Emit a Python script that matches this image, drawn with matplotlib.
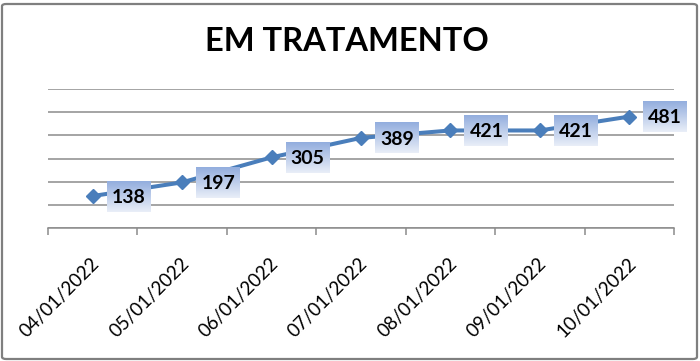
import numpy as np
import matplotlib
matplotlib.use('Agg')
import matplotlib.pyplot as plt
from matplotlib.patches import FancyBboxPatch
from matplotlib.colors import LinearSegmentedColormap
import matplotlib.transforms as mtransforms

##############################################################################
# data
dates = ['04/01/2022', '05/01/2022', '06/01/2022', '07/01/2022',
         '08/01/2022', '09/01/2022', '10/01/2022']
values = [138, 197, 305, 389, 421, 421, 481]
title = 'EM TRATAMENTO'

line_color = '#4A7EBB'
grid_color = '#8C8C8C'

plt.rcParams['font.family'] = ['Lato', 'DejaVu Sans']

W, H, DPI = 700, 361, 100
fig = plt.figure(figsize=(W / DPI, H / DPI), dpi=DPI)

# outer rounded border
border = FancyBboxPatch((2 / W, 2 / H), 1 - 5 / W, 1 - 6 / H,
                        boxstyle='round,pad=0,rounding_size=0.006',
                        transform=fig.transFigure, facecolor='none',
                        edgecolor='#7F7F7F', linewidth=1.6, zorder=10)
fig.patches.append(border)

ax = fig.add_axes([48 / W, 133 / H, 626 / W, 139 / H])
ax.set_facecolor('none')
x = np.arange(len(values))
ax.plot(x, values, color=line_color, lw=2.9, marker='D', markersize=7.5,
        markerfacecolor=line_color, markeredgecolor=line_color, zorder=3,
        clip_on=False)

ax.set_xlim(-0.5, len(values) - 0.5)
ax.set_ylim(0, 600)
ax.set_yticks(np.arange(0, 700, 100))
ax.yaxis.grid(True, color=grid_color, lw=1.1)
ax.set_axisbelow(True)
ax.tick_params(axis='y', left=False, labelleft=False)
ax.set_xticks(np.arange(-0.5, len(values), 1.0))
ax.tick_params(axis='x', direction='out', length=5, width=1.1,
               color=grid_color, labelbottom=False)
for s in ['top', 'right', 'left']:
    ax.spines[s].set_visible(False)
ax.spines['bottom'].set_color(grid_color)
ax.spines['bottom'].set_linewidth(1.1)

# rotated category labels
for i, d in enumerate(dates):
    tr = ax.get_xaxis_transform() + mtransforms.ScaledTranslation(
        4 / DPI, -33 / DPI, fig.dpi_scale_trans)
    ax.text(i, 0, d, transform=tr, rotation=45, ha='right', va='center',
            rotation_mode='anchor', fontsize=13.5, color='black')

# data labels with gradient boxes
cmap = LinearSegmentedColormap.from_list('lbl', ['#E9EEF8', '#93AEDE'])
grad = np.linspace(0, 1, 64).reshape(-1, 1)
fig.canvas.draw()
for i, v in enumerate(values):
    px, py = ax.transData.transform((i, v))
    bx0, bw, bh = px + 14, 44, 31
    by0 = py - bh / 2
    lax = fig.add_axes([bx0 / W, by0 / H, bw / W, bh / H])
    lax.imshow(grad, aspect='auto', cmap=cmap, origin='lower',
               extent=[0, 1, 0, 1])
    lax.set_axis_off()
    lax.text(0.5, 0.46, str(v), ha='center', va='center', fontsize=14,
             fontweight='bold', color='black', transform=lax.transAxes)

fig.text(0.496, 1 - 41.5 / H, title, ha='center', va='center',
         fontsize=23.5, fontweight='bold', color='black')

fig.savefig('out.png', dpi=DPI, facecolor='w')
